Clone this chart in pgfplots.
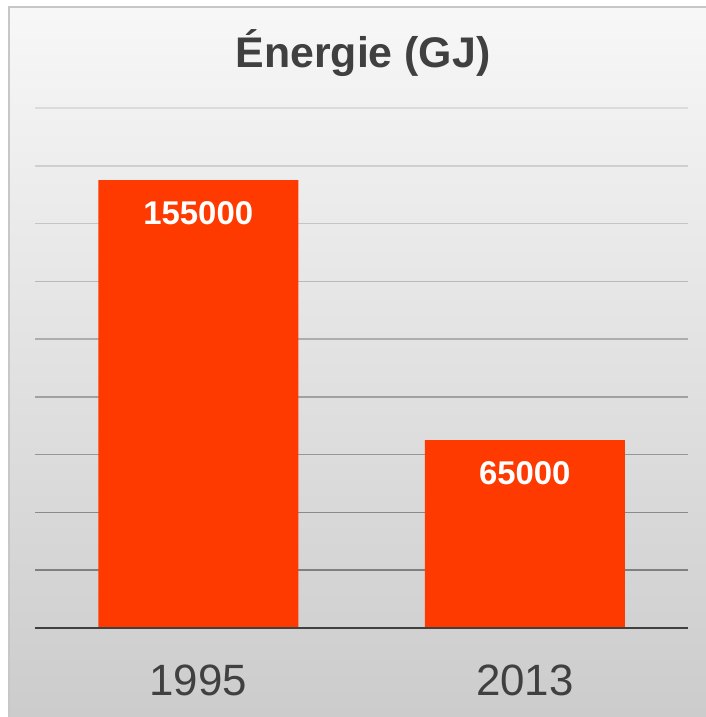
\documentclass[border=0pt]{standalone}
\usepackage{pgfplots}
\pgfplotsset{compat=1.18}
\usepackage{fontspec}
\setmainfont{Liberation Sans}
\definecolor{barred}{RGB}{255,58,0}
\definecolor{txt}{RGB}{64,64,64}
\begin{document}
\begin{tikzpicture}[x=1bp,y=1bp]
\useasboundingbox (0,0) rectangle (706,717);
\shade[top color=black!3, bottom color=black!20] (9,0) rectangle (706,710);
\draw[line width=2bp, color=black!22] (9,-2) -- (9,710) -- (708,710);
\node[anchor=base, font=\bfseries\fontsize{43}{43}\selectfont, text=txt] at (363,649) {Énergie (GJ)};
\begin{axis}[
  at={(35bp,89bp)}, anchor=south west,
  scale only axis, width=653bp, height=520bp,
  xmin=-0.5, xmax=1.5, ymin=0, ymax=180000,
  axis x line*=bottom, axis y line=none,
  x axis line style={-, line width=2.5bp, color=txt},
  xtick={0,1}, xticklabels={1995,2013},
  ytick=\empty,
  major tick length=0pt,
  xticklabel style={font=\fontsize{44}{44}\selectfont, text=txt, yshift=-33bp},
  /pgf/number format/assume math mode=true,
  clip=false,
]
\draw[line width=1.5bp, color=black!50] (axis cs:-0.5,20000) -- (axis cs:1.5,20000);
\draw[line width=1.5bp, color=black!46] (axis cs:-0.5,40000) -- (axis cs:1.5,40000);
\draw[line width=1.5bp, color=black!41] (axis cs:-0.5,60000) -- (axis cs:1.5,60000);
\draw[line width=1.5bp, color=black!37] (axis cs:-0.5,80000) -- (axis cs:1.5,80000);
\draw[line width=1.5bp, color=black!32] (axis cs:-0.5,100000) -- (axis cs:1.5,100000);
\draw[line width=1.5bp, color=black!28] (axis cs:-0.5,120000) -- (axis cs:1.5,120000);
\draw[line width=1.5bp, color=black!23] (axis cs:-0.5,140000) -- (axis cs:1.5,140000);
\draw[line width=1.5bp, color=black!19] (axis cs:-0.5,160000) -- (axis cs:1.5,160000);
\draw[line width=1.5bp, color=black!14] (axis cs:-0.5,180000) -- (axis cs:1.5,180000);
\addplot[ybar, bar width=200bp, fill=barred, draw=none,
  point meta=explicit symbolic,
  nodes near coords,
  nodes near coords style={anchor=center, yshift=-33bp, text=white,
    font=\bfseries\fontsize{33}{33}\selectfont}]
  coordinates {(0,155000) [155000] (1,65000) [65000]};
\draw[line width=2.5bp, color=txt] (axis cs:-0.5,0) -- (axis cs:1.5,0);
\end{axis}
\end{tikzpicture}
\end{document}
